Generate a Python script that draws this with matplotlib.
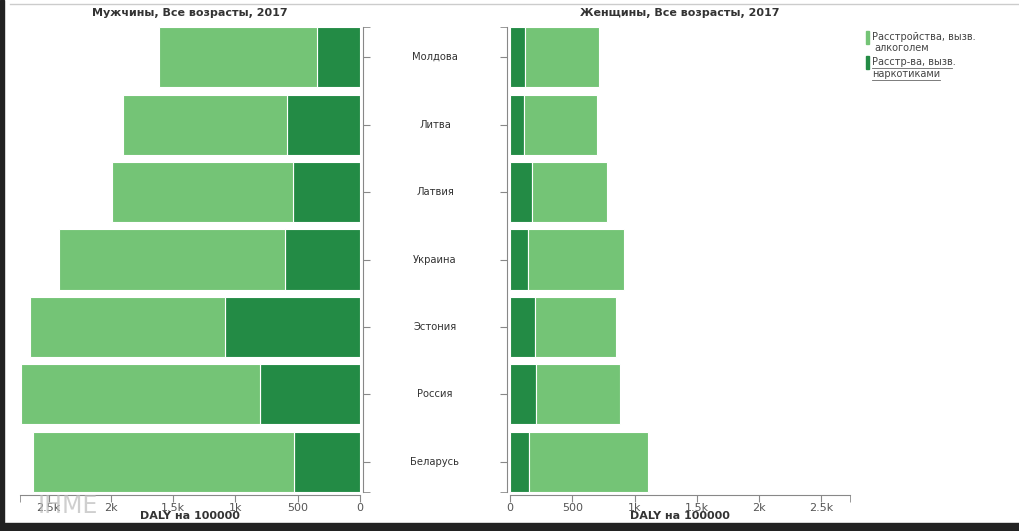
import matplotlib.pyplot as plt
from matplotlib.ticker import FuncFormatter

countries = ["Молдова", "Литва", "Латвия", "Украина", "Эстония", "Россия", "Беларусь"]

men_drugs = [346, 587, 539, 603, 1085, 804, 531]
men_alcohol = [1270, 1318, 1455, 1817, 1568, 1921, 2098]

women_drugs = [121, 113, 177, 145, 201, 209, 153]
women_alcohol = [594, 586, 603, 771, 651, 675, 956]

ticks = [0, 500, 1000, 1500, 2000, 2500]
xmax = 2730

light = "#74c476"
dark = "#238b45"
grey = "#555555"


def fmt(v, pos):
    if v == 0:
        return "0"
    if v >= 1000:
        s = "%g" % (v / 1000.0)
        return s + "k"
    return "%d" % v


def style_axis(ax, side):
    y = list(range(len(countries)))
    ax.set_ylim(6.49, -0.52)
    ax.set_xlim(0, xmax)
    ax.set_yticks(y)
    ax.set_yticklabels([])
    ax.set_yticks([-0.45, 6.45], minor=True)
    for s in ["top", "left", "right"]:
        ax.spines[s].set_visible(False)
    sp = ax.spines[side]
    sp.set_visible(True)
    sp.set_bounds(-0.45, 6.45)
    sp.set_position(("outward", 2))
    sp.set_color("#888888")
    ax.yaxis.set_ticks_position(side)
    ax.tick_params(axis="y", which="both", length=5, color="#888888",
                   direction="out")
    ax.spines["bottom"].set_color("#888888")
    ax.set_xticks(ticks)
    ax.set_xticks([xmax], minor=True)
    ax.xaxis.set_major_formatter(FuncFormatter(fmt))
    ax.tick_params(axis="x", which="both", length=5, color="#888888",
                   labelsize=8, labelcolor=grey, pad=0.5)
    ax.set_xlabel("DALY на 100000", fontsize=8, fontweight="bold",
                  color="#333333", labelpad=-1)


fig = plt.figure(figsize=(10.2, 5.31), dpi=100)

# men panel
ax1 = fig.add_axes([20 / 1020, 1 - 495 / 531, 340 / 1020, 473 / 531])
y = list(range(len(countries)))
ax1.barh(y, men_drugs, height=0.89, color=dark, edgecolor="white", linewidth=0.8)
ax1.barh(y, men_alcohol, left=men_drugs, height=0.89, color=light,
         edgecolor="white", linewidth=0.8)
style_axis(ax1, "right")
ax1.invert_xaxis()
ax1.set_title("Мужчины, Все возрасты, 2017", fontsize=8, fontweight="bold",
              color="#333333", pad=4)

# women panel
ax2 = fig.add_axes([510 / 1020, 1 - 495 / 531, 340 / 1020, 473 / 531])
ax2.barh(y, women_drugs, height=0.89, color=dark, edgecolor="white", linewidth=0.8)
ax2.barh(y, women_alcohol, left=women_drugs, height=0.89, color=light,
         edgecolor="white", linewidth=0.8)
style_axis(ax2, "left")
ax2.set_title("Женщины, Все возрасты, 2017", fontsize=8, fontweight="bold",
              color="#333333", pad=4)

# country names in the middle
for i, c in enumerate(countries):
    ax1.annotate(c, xy=(0, i), xycoords="data", xytext=(54, 0),
                 textcoords="offset points", ha="center", va="center",
                 fontsize=7.2, color="#333333", annotation_clip=False)

# legend
fig.patches.append(plt.Rectangle((866 / 1020, 1 - 44 / 531), 3 / 1020, 13 / 531,
                                 transform=fig.transFigure, color=light))
fig.text(872 / 1020, 1 - 37 / 531, "Расстройства, вызв.", fontsize=7,
         color="#444444", va="center")
fig.text(874 / 1020, 1 - 48 / 531, "алкоголем", fontsize=7,
         color="#444444", va="center")
fig.patches.append(plt.Rectangle((866 / 1020, 1 - 69 / 531), 3 / 1020, 13 / 531,
                                 transform=fig.transFigure, color=dark))
fig.text(872 / 1020, 1 - 62 / 531, "Расстр-ва, вызв.", fontsize=7,
         color="#444444", va="center")
fig.text(872 / 1020, 1 - 74 / 531, "наркотиками", fontsize=7,
         color="#444444", va="center")
fig.lines.append(plt.Line2D([872 / 1020, 952 / 1020], [1 - 68 / 531, 1 - 68 / 531],
                            transform=fig.transFigure, color="#666666", lw=0.6))
fig.lines.append(plt.Line2D([872 / 1020, 940 / 1020], [1 - 80 / 531, 1 - 80 / 531],
                            transform=fig.transFigure, color="#666666", lw=0.6))

# logo watermark
fig.text(38 / 1020, 1 - 506 / 531, "IHME", fontsize=17, color="#bbbbbb",
         va="center", alpha=0.7, zorder=0)

# frame of the screenshot
fig.lines.append(plt.Line2D([10 / 1020, 1], [1 - 4 / 531, 1 - 4 / 531],
                            transform=fig.transFigure, color="#cccccc", lw=1))
fig.patches.append(plt.Rectangle((0, 0), 4 / 1020, 1, transform=fig.transFigure,
                                 color="#222222"))
fig.patches.append(plt.Rectangle((0, 0), 1, 8 / 531, transform=fig.transFigure,
                                 color="#222222"))

fig.savefig("out.png", dpi=100)
